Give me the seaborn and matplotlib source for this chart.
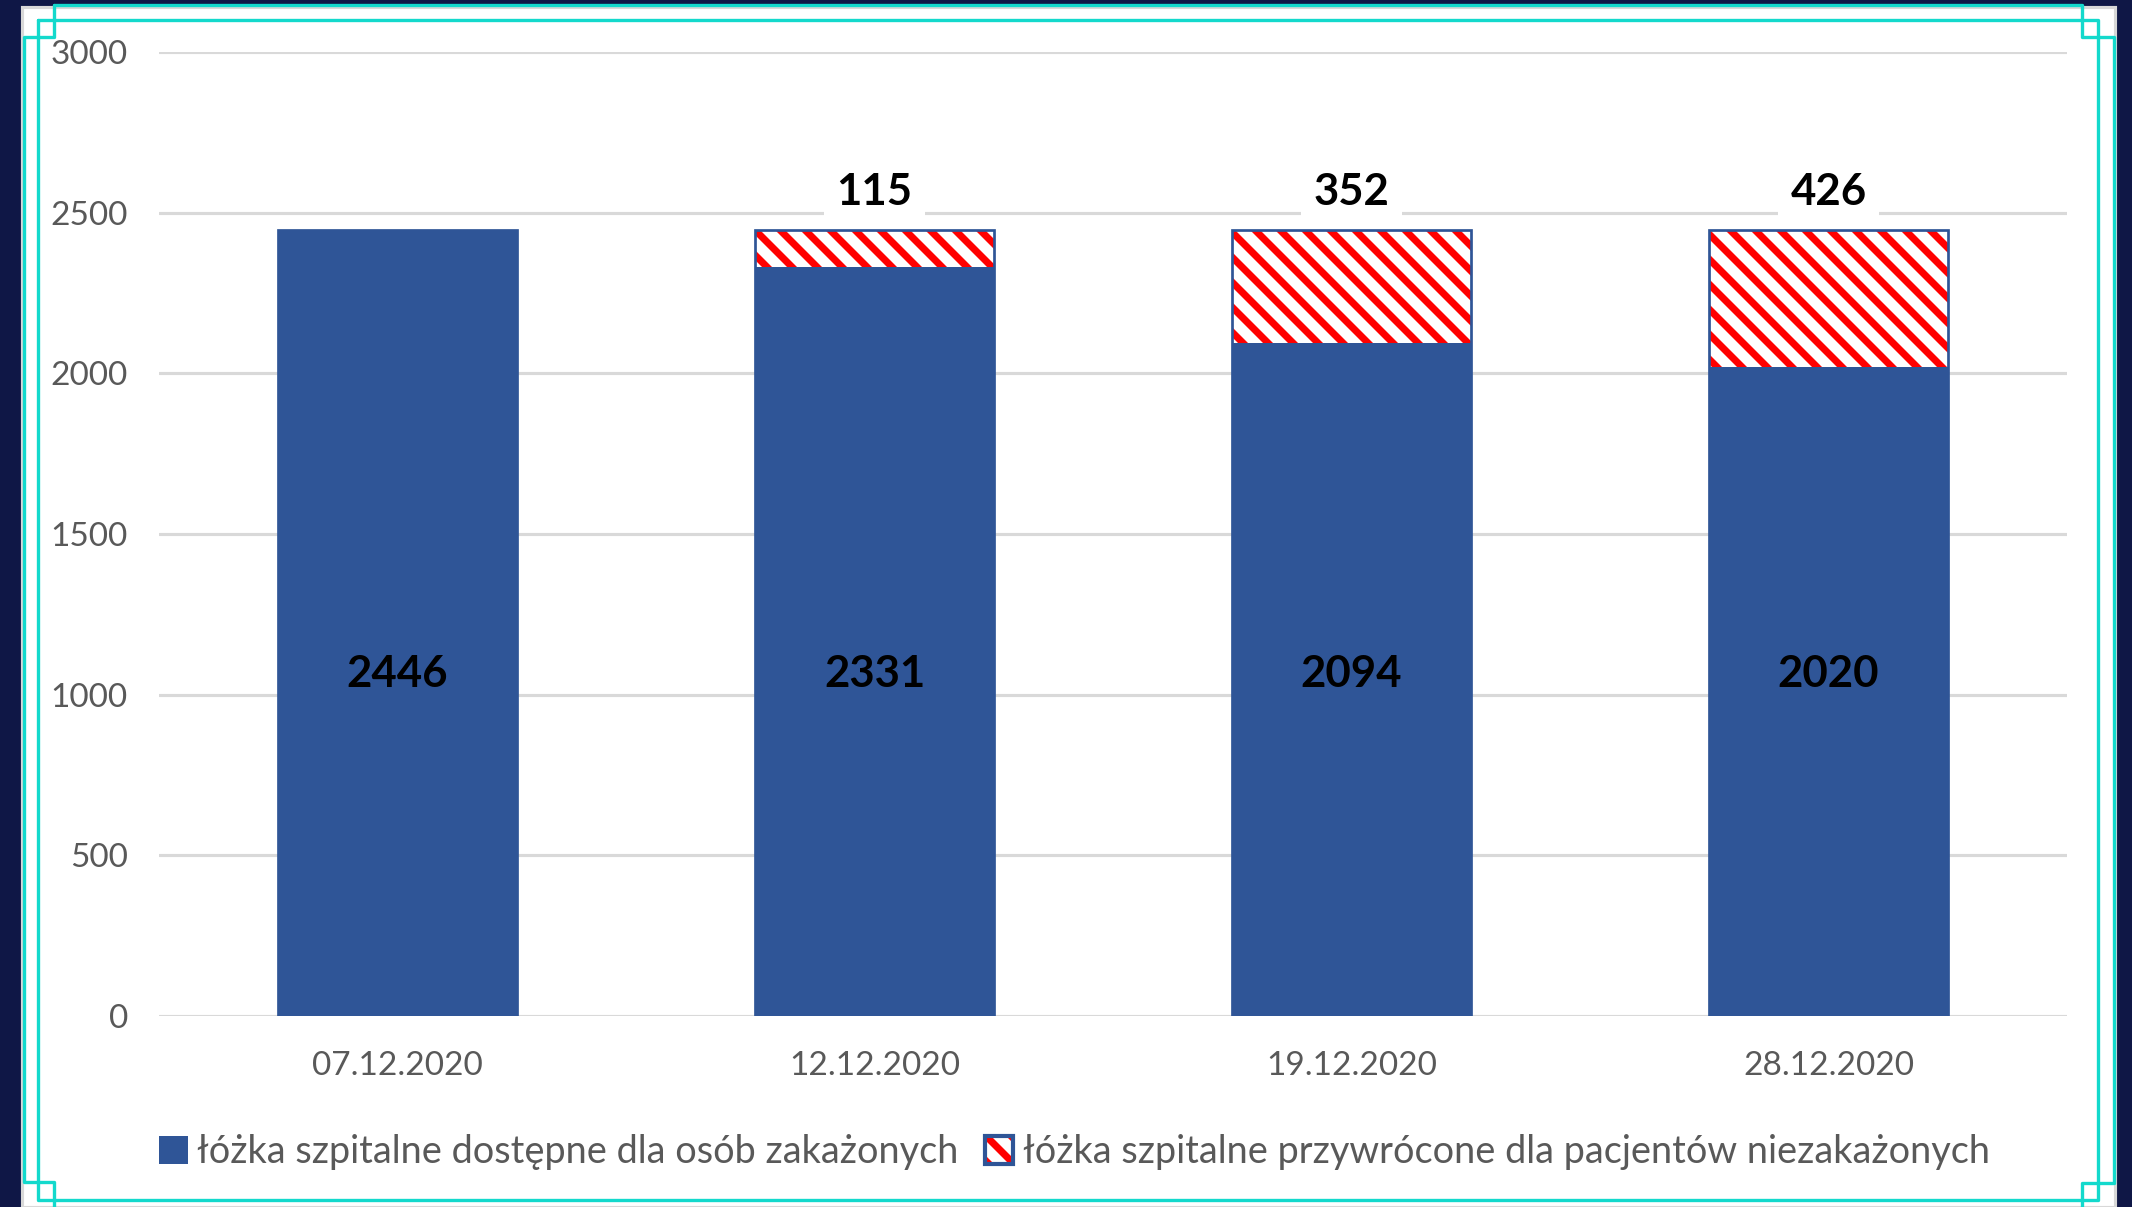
import matplotlib
matplotlib.use("Agg")
import matplotlib.pyplot as plt
import seaborn as sns
import pandas as pd
from matplotlib.patches import Patch, Rectangle
from matplotlib.lines import Line2D
from matplotlib.legend_handler import HandlerTuple

# Data
dates = ["07.12.2020", "12.12.2020", "19.12.2020", "28.12.2020"]
available = [2446, 2331, 2094, 2020]
restored = [0, 115, 352, 426]
series_names = [
    "łóżka szpitalne dostępne dla osób zakażonych",
    "łóżka szpitalne przywrócone dla pacjentów niezakażonych",
]
y_ticks = [0, 500, 1000, 1500, 2000, 2500, 3000]

df = pd.DataFrame({"date": dates, "available": available, "restored": restored})
df["total"] = df["available"] + df["restored"]

BLUE = "#2F5597"
RED = "#FF0000"
GRAY = "#595959"
NAVY = "#0F1746"
CYAN = "#13D9CC"

sns.set_style("white")
plt.rcParams["font.family"] = ["Lato", "DejaVu Sans"]
plt.rcParams["hatch.linewidth"] = 3.4

DPI = 150
W, H = 2132, 1207
fig = plt.figure(figsize=(W / DPI, H / DPI), dpi=DPI, facecolor=NAVY)

# white card behind the chart
fig.add_artist(Rectangle((22 / W, 0), (2115 - 22) / W, 1 - 7 / H,
                         transform=fig.transFigure, facecolor="white",
                         edgecolor="#d8d8d8", linewidth=1.5, zorder=0))

ax = fig.add_axes([159 / W, 1 - 1016 / H, (2067 - 159) / W, (1016 - 52) / H])
ax.set_facecolor("none")

# hatched part = full stack height, then blue part on top
sns.barplot(data=df, x="date", y="total", color="white", width=0.5,
            saturation=1, ax=ax, zorder=2)
for p in ax.patches:
    p.set_hatch("\\\\")
    p.set_edgecolor(RED)
    p.set_linewidth(0)
n_hatch = len(ax.patches)
sns.barplot(data=df, x="date", y="available", color=BLUE, width=0.5,
            saturation=1, ax=ax, zorder=3)
for p in ax.patches[n_hatch:]:
    p.set_edgecolor(BLUE)
    p.set_linewidth(0)
# blue outline round the whole stack
for p in ax.patches[:n_hatch]:
    ax.add_patch(Rectangle(p.get_xy(), p.get_width(), p.get_height(),
                           fill=False, edgecolor=BLUE, linewidth=1.3, zorder=4))

# labels
for i, row in df.iterrows():
    ax.text(i, 1065, str(row["available"]), ha="center", va="center",
            fontsize=21, fontweight="bold", color="black", zorder=5)
    if row["restored"] > 0:
        ax.text(i, 2565, str(row["restored"]), ha="center", va="center",
                fontsize=21, fontweight="bold", color="black", zorder=5,
                bbox=dict(facecolor="white", edgecolor="none", pad=6))

ax.set_ylim(0, 3000)
ax.set_xlim(-0.5, 3.5)
ax.set_yticks(y_ticks)
ax.yaxis.grid(True, color="#d9d9d9", linewidth=1.5, zorder=0)
ax.set_axisbelow(True)
for s in ax.spines.values():
    s.set_visible(False)
ax.tick_params(axis="y", length=0, pad=15, labelsize=16, labelcolor=GRAY)
ax.tick_params(axis="x", length=0, pad=17, labelsize=16, labelcolor=GRAY)
ax.set_xlabel("")
ax.set_ylabel("")

# legend
h1 = Patch(facecolor=BLUE, edgecolor=BLUE, linewidth=0)
h2a = Patch(facecolor="white", edgecolor=RED, linewidth=0, hatch="\\\\")
h2b = Patch(facecolor="none", edgecolor=BLUE, linewidth=2)
fig.legend([h1, (h2a, h2b)], series_names, loc="center",
           bbox_to_anchor=(0.504, 1 - 1152 / H), ncol=2, frameon=False,
           fontsize=18.2, labelcolor=GRAY, handlelength=0.75, handleheight=0.75,
           handletextpad=0.25, columnspacing=0.7,
           handler_map={tuple: HandlerTuple(ndivide=1, pad=0)})

# cyan decorative frame (pixel coordinates, image y downwards)
def frame(xs, ys):
    fig.add_artist(Line2D([x / W for x in xs], [1 - y / H for y in ys],
                          transform=fig.transFigure, color=CYAN,
                          linewidth=1.6, zorder=10))

# outer frame with notched corners
frame([54, 2082, 2082, 2114, 2114, 2082, 2082],
      [5, 5, 37, 37, 1183, 1183, 1210])
frame([54, 54, 24, 24, 54, 54], [5, 37, 37, 1182, 1182, 1210])
# inner frame
frame([38, 2098, 2098, 38, 38], [20, 20, 1200, 1200, 20])

fig.savefig("out.png", dpi=DPI, facecolor=NAVY)
